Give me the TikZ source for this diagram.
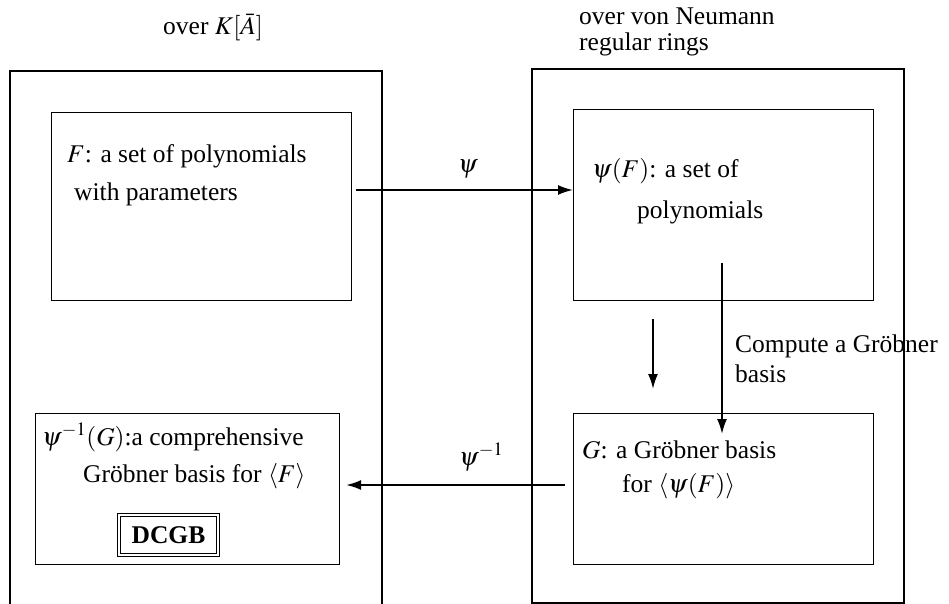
\documentclass[tikz,border=0pt]{standalone}
\usepackage{mathptmx}
\usepackage{fontspec}
\setmainfont{Liberation Serif}
\newfontfamily\tmsfont{Liberation Serif}
\usetikzlibrary{arrows.meta}
\tikzset{
  frame/.style={draw, line width=1.1pt},
  txt/.style={anchor=base west, inner sep=0pt, font=\tmsfont\fontsize{25.5}{30}\selectfont},
  arr/.style={line width=1.9pt, -{Latex[length=15pt,width=10pt]}},
}
\begin{document}
\begin{tikzpicture}[x=1pt,y=-1pt]
\clip (0,0) rectangle (949,604);
% outer frames
\draw[frame] (10,630) -- (10,71) -- (382,71) -- (382,630);
\draw[frame] (532,69) rectangle (904,603);
% inner boxes
\node[frame, anchor=north west, minimum width=300pt, minimum height=188pt, inner sep=0pt] (ltop) at (51,112) {};
\node[frame, anchor=north west, minimum width=300pt, minimum height=191pt, inner sep=0pt] (rtop) at (573,109) {};
\node[frame, anchor=north west, minimum width=304pt, minimum height=151pt, inner sep=0pt] (lbot) at (35,413) {};
\node[frame, anchor=north west, minimum width=300pt, minimum height=151pt, inner sep=0pt] (rbot) at (573,413) {};
% headings
\node[txt] (hl) at (163,35) {over $K[\bar{A}]$};
\node[txt] (hr1) at (579,25) {over von Neumann};
\node[txt] (hr2) at (579,51) {regular rings};
% box texts
\node[txt] (t1) at (67,163) {$F$: a set of polynomials};
\node[txt] (t2) at (74,200) {with parameters};
\node[txt] (t3) at (592,178) {$\psi(F)$: a set of};
\node[txt] (t4) at (637,218) {polynomials};
\node[txt] (t5) at (582,458) {$G$: a Gröbner basis};
\node[txt] (t6) at (622,492) {for $\langle\psi(F)\rangle$};
\node[txt] (t7) at (42,445) {$\psi^{-1}(G)$:a comprehensive};
\node[txt] (t8) at (83,482) {Gröbner basis for $\langle F\rangle$};
\node[draw, double, double distance=2pt, line width=0.9pt, minimum width=99pt, minimum height=40pt, inner sep=0pt, font=\tmsfont\fontsize{25.5}{30}\selectfont\bfseries] (dcgb) at (168.5,535) {DCGB};
% arrows
\coordinate (p1) at (356,190);
\draw[arr] (p1) -- (p1 -| rtop.west);
\node[txt] (lpsi) at (458,172) {$\psi$};
\coordinate (p2) at (565,485);
\draw[arr] (p2) -- ([xshift=6pt]p2 -| lbot.east);
\node[txt] (lpsiinv) at (459,465) {$\psi^{-1}$};
\coordinate (v1s) at (653,319);
\coordinate (v1e) at (653,389);
\draw[arr] (v1s) -- (v1e);
\coordinate (v2s) at (722,263);
\coordinate (v2e) at (722,434);
\draw[arr] (v2s) -- (v2e);
\node[txt] (c1) at (735,352) {Compute a Gröbner};
\node[txt] (c2) at (735,382) {basis};
\end{tikzpicture}
\end{document}
